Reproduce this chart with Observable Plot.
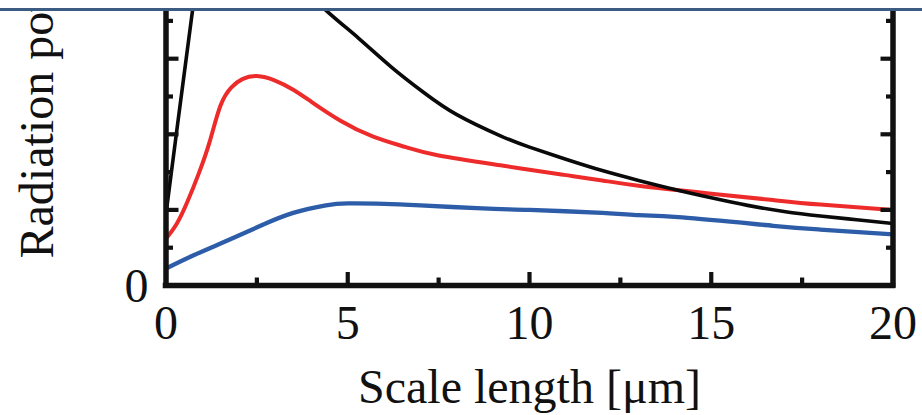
<!DOCTYPE html>
<html>
<head>
<meta charset="utf-8">
<script src="https://cdn.jsdelivr.net/npm/d3@7"></script>
<script src="https://cdn.jsdelivr.net/npm/@observablehq/plot@0.6"></script>
<style>
  html, body { margin: 0; padding: 0; background: #ffffff; }
  #wrap { width: 922px; height: 415px; overflow: hidden; background: #ffffff; }
  #band { height: 8px; background: #ffffff; border-bottom: 3px solid #3b5b82; }
  #chart svg { display: block; overflow: hidden; }
</style>
</head>
<body>
<div id="wrap">
  <div id="band"></div>
  <div id="chart"></div>
</div>
<script>
// ---- data ----
const xLabel = "Scale length [μm]";
const yLabel = "Radiation power";

const xTickLabels = [0, 5, 10, 15, 20];
const xMajorTicks = [5, 10, 15];
const xMinorTicks = [2.5, 7.5, 12.5, 17.5];
const yTickLabels = [0];
const yMajorTicks = [1, 2, 3];
const yMinorTicks = [0.5, 1.5, 2.5, 3.5];

const scaleLenRed = [0, 0.3, 0.6, 0.9, 1.2, 1.5, 1.8, 2.1, 2.5, 3, 3.5, 4, 4.8, 5.7, 6.6, 7.5, 9.2, 10, 11, 12, 13, 15, 16.7, 18, 20];
const powerRed    = [0.62, 0.82, 1.12, 1.48, 1.9, 2.38, 2.62, 2.73, 2.77, 2.71, 2.59, 2.43, 2.18, 1.97, 1.83, 1.72, 1.59, 1.53, 1.46, 1.39, 1.32, 1.215, 1.13, 1.07, 1.0];

const scaleLenBlue = [0, 0.76, 1.69, 2.6, 3.5, 4.4, 5, 6, 7, 8.7, 10, 12, 13, 14.2, 16.7, 18, 20];
const powerBlue    = [0.225, 0.40, 0.595, 0.79, 0.96, 1.06, 1.085, 1.08, 1.06, 1.02, 1.0, 0.96, 0.93, 0.90, 0.79, 0.74, 0.675];

const scaleLenBlack = [0, 0.35, 0.73, 1.0, 1.5, 2.2, 3.2, 4.4, 5.3, 6.2, 7.1, 8, 9.2, 10, 11, 12, 13, 14, 15, 16, 17, 18, 19, 20];
const powerBlack    = [0.95, 2.25, 3.64, 4.4, 4.75, 4.7, 4.2, 3.64, 3.27, 2.89, 2.55, 2.26, 1.98, 1.83, 1.67, 1.52, 1.39, 1.27, 1.16, 1.06, 0.98, 0.92, 0.87, 0.82];

const seriesColors = { red: "#ee2b2b", blue: "#2d5ca8", black: "#0a0a0a" };

// ---- build tables ----
const toRows = (xs, ys) => xs.map((x, i) => ({ x, y: ys[i] }));
const red = toRows(scaleLenRed, powerRed);
const blue = toRows(scaleLenBlue, powerBlue);
const black = toRows(scaleLenBlack, powerBlack);

const font = "'Liberation Serif', 'Times New Roman', serif";
const ink = "#111111";
const W = 922, H = 404;
const mL = 165.5, mR = 29.5, mT = 0, mB = 130;
const yTop = (H - mT - mB) / 75.6;

const tickStyle = { tickFormat: () => "", stroke: ink, strokeWidth: 4.2 };

const chart = Plot.plot({
  width: W,
  height: H,
  marginLeft: mL,
  marginRight: mR,
  marginTop: mT,
  marginBottom: mB,
  style: { fontFamily: font, background: "#ffffff", color: ink, overflow: "hidden" },
  x: { domain: [0, 20], label: null },
  y: { domain: [0, yTop], label: null },
  marks: [
    // curves
    Plot.line(red, { x: "x", y: "y", stroke: seriesColors.red, strokeWidth: 4, curve: "natural", clip: true }),
    Plot.line(blue, { x: "x", y: "y", stroke: seriesColors.blue, strokeWidth: 4.3, curve: "natural", clip: true }),
    Plot.line(black, { x: "x", y: "y", stroke: seriesColors.black, strokeWidth: 3.6, curve: "natural", clip: true }),
    // inward ticks
    Plot.axisX({ anchor: "bottom", ticks: xMajorTicks, tickSize: -13, ...tickStyle }),
    Plot.axisX({ anchor: "bottom", ticks: xMinorTicks, tickSize: -7.5, ...tickStyle }),
    Plot.axisY({ anchor: "left", ticks: yMajorTicks, tickSize: -13, ...tickStyle }),
    Plot.axisY({ anchor: "left", ticks: yMinorTicks, tickSize: -7.5, ...tickStyle }),
    Plot.axisY({ anchor: "right", ticks: yMajorTicks, tickSize: -13, ...tickStyle }),
    Plot.axisY({ anchor: "right", ticks: yMinorTicks, tickSize: -7.5, ...tickStyle }),
    // frame
    Plot.ruleX([0, 20], { stroke: ink, strokeWidth: 5.5, strokeLinecap: "square" }),
    Plot.ruleY([0], { stroke: ink, strokeWidth: 5.5, strokeLinecap: "square" }),
    // tick labels
    Plot.axisX({ anchor: "bottom", ticks: xTickLabels, tickSize: 0, tickPadding: 19, fontSize: 48, fill: ink, label: null, tickFormat: d => String(d) }),
    Plot.axisY({ anchor: "left", ticks: yTickLabels, tickSize: 0, tickPadding: 17.5, fontSize: 48, fill: ink, label: null, dy: 1.5, tickFormat: d => String(d) }),
    // axis titles
    Plot.text([xLabel], { frameAnchor: "bottom", text: d => d, fontSize: 48, fill: ink, lineAnchor: "middle", dy: 102.6 }),
    Plot.text([yLabel], { frameAnchor: "bottom-left", text: d => d, fontSize: 48, fill: ink, rotate: -90, textAnchor: "start", lineAnchor: "middle", dx: -128.5, dy: -27 })
  ]
});

document.getElementById("chart").appendChild(chart);
</script>
</body>
</html>
